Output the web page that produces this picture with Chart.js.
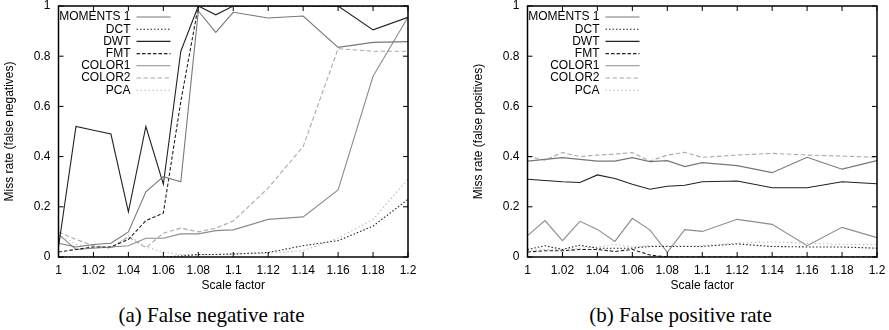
<!DOCTYPE html>
<html>
<head>
<meta charset="utf-8">
<script src="https://cdn.jsdelivr.net/npm/chart.js@4.4.1/dist/chart.umd.min.js"></script>
<style>
  body { margin: 0; background: #fff; width: 889px; height: 330px; position: relative; overflow: hidden; }
  canvas { position: absolute; top: 0; }
  .caption { position: absolute; top: 304px; font-family: "Liberation Serif", serif; font-size: 21px; line-height: 22px; text-align: center; color: #000; }
</style>
</head>
<body>
<canvas id="fnChart" width="419" height="293" style="left:0px"></canvas>
<canvas id="fpChart" width="419" height="293" style="left:469px"></canvas>
<div class="caption" style="left:0px;width:423px">(a) False negative rate</div>
<div class="caption" style="left:469px;width:423px">(b) False positive rate</div>
<script>
const scaleFactors = [1, 1.01, 1.02, 1.03, 1.04, 1.05, 1.06, 1.07, 1.08, 1.09, 1.1, 1.12, 1.14, 1.16, 1.18, 1.2];
const seriesNames = ['MOMENTS 1', 'DCT', 'DWT', 'FMT', 'COLOR1', 'COLOR2', 'PCA'];
const xTicks = [1, 1.02, 1.04, 1.06, 1.08, 1.1, 1.12, 1.14, 1.16, 1.18, 1.2];
const yTicks = [0, 0.2, 0.4, 0.6, 0.8, 1];

// (a) false negatives
const moments1FN = [0.055, 0.04, 0.05, 0.055, 0.10, 0.26, 0.32, 0.30, 0.98, 0.895, 0.975, 0.952, 0.96, 0.835, 0.855, 0.858];
const dctFN      = [0, 0, 0, 0, 0, 0, 0, 0.004, 0.01, 0.01, 0.012, 0.018, 0.045, 0.065, 0.123, 0.23];
const dwtFN      = [0.04, 0.52, 0.505, 0.49, 0.18, 0.52, 0.29, 0.82, 1.0, 0.965, 1.0, 1.0, 1.0, 1.0, 0.905, 0.955];
const fmtFN      = [0.02, 0.03, 0.04, 0.04, 0.07, 0.145, 0.175, 0.62, 1.0, 1.0, 1.0, 1.0, 1.0, 1.0, 1.0, 1.0];
const color1FN   = [0.09, 0.03, 0.035, 0.04, 0.045, 0.075, 0.075, 0.092, 0.092, 0.105, 0.108, 0.15, 0.16, 0.267, 0.72, 0.955];
const color2FN   = [0.1, 0.07, 0.045, 0.035, 0.08, 0.037, 0.095, 0.115, 0.1, 0.115, 0.143, 0.275, 0.44, 0.83, 0.82, 0.82];
const pcaFN      = [0.09, 0.05, 0.04, 0.035, 0.085, 0.04, 0.02, 0.01, 0.008, 0.01, 0.012, 0.015, 0.025, 0.075, 0.15, 0.31];

// (b) false positives
const moments1FP = [0.382, 0.389, 0.396, 0.389, 0.382, 0.382, 0.396, 0.38, 0.384, 0.36, 0.376, 0.364, 0.336, 0.397, 0.35, 0.384];
const dctFP      = [0.03, 0.045, 0.03, 0.047, 0.035, 0.035, 0.035, 0.042, 0.042, 0.042, 0.042, 0.052, 0.042, 0.04, 0.04, 0.035];
const dwtFP      = [0.31, 0.305, 0.3, 0.297, 0.327, 0.313, 0.29, 0.27, 0.282, 0.286, 0.3, 0.303, 0.276, 0.276, 0.3, 0.292];
const fmtFP      = [0.02, 0.025, 0.025, 0.03, 0.03, 0.022, 0.03, 0.008, 0, 0, 0, 0, 0, 0, 0, 0];
const color1FP   = [0.085, 0.145, 0.065, 0.142, 0.11, 0.062, 0.154, 0.108, 0.019, 0.109, 0.102, 0.15, 0.13, 0.045, 0.118, 0.077];
const color2FP   = [0.402, 0.386, 0.416, 0.4, 0.406, 0.41, 0.416, 0.382, 0.406, 0.417, 0.397, 0.406, 0.413, 0.406, 0.402, 0.397];
const pcaFP      = [0.025, 0.03, 0.03, 0.035, 0.04, 0.05, 0.04, 0.045, 0.045, 0.045, 0.045, 0.055, 0.06, 0.055, 0.05, 0.05];

// gnuplot monochrome line styles, same order as seriesNames
const lineStyles = [
  { color: '#777', dash: [] },
  { color: '#222', dash: [1.5, 2] },
  { color: '#222', dash: [] },
  { color: '#222', dash: [3.5, 2] },
  { color: '#8c8c8c', dash: [] },
  { color: '#aaa', dash: [4.5, 2.5] },
  { color: '#bbb', dash: [1.5, 2.5] }
];

Chart.defaults.font.family = '"Liberation Sans", Arial, sans-serif';
Chart.defaults.font.size = 12;
Chart.defaults.color = '#000';

const fmt = v => String(parseFloat(Number(v).toFixed(2)));

// frame with inward mirrored ticks + gnuplot style key
const gnuplotFrame = {
  id: 'gnuplotFrame',
  afterDatasetsDraw(chart) {
    const { ctx, chartArea: a, scales: { x, y } } = chart;
    const tick = 5;
    ctx.save();
    ctx.strokeStyle = '#000';
    ctx.lineWidth = 1;
    ctx.beginPath();
    xTicks.forEach(v => {
      const px = x.getPixelForValue(v);
      ctx.moveTo(px, a.bottom); ctx.lineTo(px, a.bottom - tick);
      ctx.moveTo(px, a.top);    ctx.lineTo(px, a.top + tick);
    });
    yTicks.forEach(v => {
      const py = y.getPixelForValue(v);
      ctx.moveTo(a.left, py);  ctx.lineTo(a.left + tick, py);
      ctx.moveTo(a.right, py); ctx.lineTo(a.right - tick, py);
    });
    ctx.stroke();
    ctx.lineWidth = 1.5;
    ctx.strokeRect(a.left, a.top, a.right - a.left, a.bottom - a.top);

    ctx.font = '12px "Liberation Sans", Arial, sans-serif';
    ctx.textAlign = 'right';
    ctx.textBaseline = 'middle';
    chart.data.datasets.forEach((ds, i) => {
      const ry = a.top + 11 + i * 12.2;
      ctx.fillStyle = '#000';
      ctx.fillText(ds.label, a.left + 72, ry);
      ctx.strokeStyle = ds.borderColor;
      ctx.lineWidth = ds.borderWidth;
      ctx.setLineDash(ds.borderDash);
      ctx.beginPath();
      ctx.moveTo(a.left + 78, ry);
      ctx.lineTo(a.left + 112, ry);
      ctx.stroke();
      ctx.setLineDash([]);
    });
    ctx.restore();
  }
};

function makeChart(id, yTitle, series) {
  const datasets = series.map((vals, i) => ({
    label: seriesNames[i],
    data: scaleFactors.map((sf, j) => ({ x: sf, y: vals[j] })),
    borderColor: lineStyles[i].color,
    borderDash: lineStyles[i].dash,
    borderWidth: 1.1,
    pointRadius: 0,
    tension: 0,
    fill: false
  }));

  return new Chart(document.getElementById(id), {
    type: 'line',
    data: { datasets },
    plugins: [gnuplotFrame],
    options: {
      responsive: false,
      animation: false,
      devicePixelRatio: 1,
      layout: { padding: { top: 6, right: 11, left: 0, bottom: 0 } },
      plugins: { legend: { display: false }, tooltip: { enabled: false } },
      scales: {
        x: {
          type: 'linear',
          min: 1,
          max: 1.2,
          afterFit: s => { s.height = 36; s.paddingLeft = 0; s.paddingRight = 0; },
          afterBuildTicks: s => { s.ticks = xTicks.map(v => ({ value: v })); },
          grid: { display: false, drawTicks: false },
          border: { display: false },
          ticks: { padding: 6, maxRotation: 0, autoSkip: false, callback: fmt },
          title: { display: true, text: 'Scale factor', padding: { top: 0, bottom: 0 } }
        },
        y: {
          min: 0,
          max: 1,
          afterFit: s => { s.width = 58.5; s.paddingTop = 0; s.paddingBottom = 0; },
          afterBuildTicks: s => { s.ticks = yTicks.map(v => ({ value: v })); },
          grid: { display: false, drawTicks: false },
          border: { display: false },
          ticks: { padding: 8, callback: fmt },
          title: { display: true, text: yTitle, padding: { top: 2, bottom: 0 } }
        }
      }
    }
  });
}

makeChart('fnChart', 'Miss rate (false negatives)',
  [moments1FN, dctFN, dwtFN, fmtFN, color1FN, color2FN, pcaFN]);
makeChart('fpChart', 'Miss rate (false positives)',
  [moments1FP, dctFP, dwtFP, fmtFP, color1FP, color2FP, pcaFP]);
</script>
</body>
</html>
